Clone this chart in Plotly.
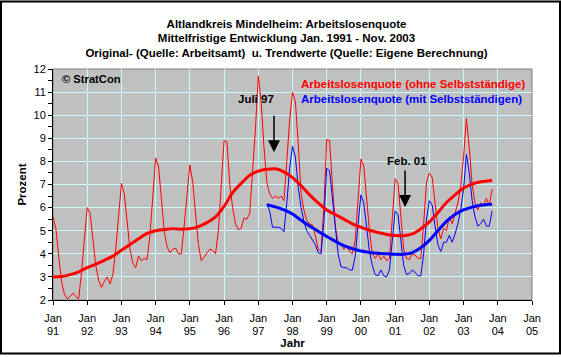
import plotly.graph_objects as go

# ---------------- data ----------------
# Red: Arbeitslosenquote (ohne Selbstständige), monthly Jan 1991 .. Nov 2003
red_1991 = [5.6, 5.1, 3.9, 2.8, 2.25, 2.05, 2.15, 2.3, 2.15, 2.05, 3.2, 4.8]
red_1992 = [6.0, 5.75, 4.5, 3.5, 2.85, 2.55, 2.8, 3.0, 2.7, 3.1, 4.2, 5.8]
red_1993 = [7.05, 6.6, 5.3, 4.2, 3.6, 3.4, 3.9, 3.7, 3.8, 3.75, 4.8, 6.7]
red_1994 = [8.15, 7.8, 6.4, 5.0, 4.3, 4.05, 4.2, 4.25, 4.0, 4.0, 5.2, 6.6]
red_1995 = [7.85, 7.1, 5.9, 4.4, 3.7, 3.85, 4.05, 4.2, 4.15, 4.0, 5.0, 7.0]
red_1996 = [8.9, 8.85, 7.0, 6.0, 5.3, 5.05, 5.1, 5.55, 5.5, 5.75, 7.4, 9.4]
red_1997 = [11.7, 10.6, 8.6, 7.1, 6.6, 6.4, 6.5, 6.4, 6.5, 6.3, 8.0, 9.8]
red_1998 = [11.0, 10.6, 8.8, 6.6, 5.9, 5.45, 5.3, 5.25, 4.8, 4.2, 4.1, 6.0]
red_1999 = [8.95, 8.9, 7.0, 5.2, 4.45, 4.45, 4.2, 4.35, 4.1, 4.0, 4.6, 6.5]
red_2000 = [8.1, 7.8, 6.4, 5.0, 4.0, 3.8, 4.0, 3.75, 3.9, 3.7, 3.8, 5.4]
red_2001 = [7.25, 7.05, 5.5, 4.2, 3.8, 3.75, 4.0, 3.95, 3.8, 3.8, 5.3, 7.1]
red_2002 = [7.5, 7.3, 6.2, 5.1, 4.65, 5.1, 5.0, 5.6, 5.3, 5.7, 6.2, 6.9]
red_2003 = [8.2, 9.85, 8.6, 7.0, 6.2, 5.9, 6.2, 6.1, 6.4, 6.1, 6.8]

# Blue: Arbeitslosenquote (mit Selbstständigen), monthly Apr 1997 .. Nov 2003
blue_1997 = [6.15, 5.85, 5.15, 5.15, 5.15, 5.1, 4.95, 6.2, 7.7]          # Apr..Dec
blue_1998 = [8.65, 8.2, 6.9, 6.0, 5.4, 5.0, 4.8, 4.6, 4.4, 4.05, 4.0, 5.4]
blue_1999 = [7.7, 7.6, 6.3, 5.0, 4.0, 3.45, 3.4, 3.4, 3.3, 3.3, 3.9, 5.3]
blue_2000 = [6.55, 6.2, 5.0, 4.1, 3.5, 3.1, 3.05, 3.3, 3.05, 3.0, 3.3, 4.6]
blue_2001 = [5.85, 5.7, 4.6, 3.5, 3.1, 3.15, 3.3, 3.2, 3.05, 3.05, 4.0, 5.5]
blue_2002 = [6.3, 6.1, 5.2, 4.4, 4.1, 4.5, 4.5, 4.8, 4.5, 4.85, 5.3, 5.9]
blue_2003 = [6.8, 8.3, 7.5, 6.3, 5.6, 5.2, 5.3, 5.5, 5.2, 5.2, 5.85]

# Trend values (month index since Jan 1991, value)
red_trend_month = [0, 3, 6, 9, 12, 15, 18, 21, 24, 27, 30, 33, 36, 39, 42, 45, 48, 51, 54, 57,
                   60, 63, 66, 69, 72, 75, 78, 81, 84, 87, 90, 93, 96, 99, 102, 105, 108, 111,
                   114, 117, 120, 123, 126, 129, 132, 135, 138, 141, 144, 147, 150, 153, 154]
red_trend_value = [3.0, 3.02, 3.1, 3.22, 3.4, 3.55, 3.72, 3.9, 4.15, 4.4, 4.65, 4.88, 5.0, 5.05,
                   5.08, 5.06, 5.08, 5.18, 5.35, 5.6, 6.05, 6.65, 7.05, 7.4, 7.58, 7.66, 7.68,
                   7.55, 7.3, 6.95, 6.55, 6.2, 5.9, 5.7, 5.5, 5.3, 5.15, 5.02, 4.92, 4.84, 4.79,
                   4.78, 4.86, 5.08, 5.38, 5.78, 6.22, 6.55, 6.85, 7.02, 7.12, 7.16, 7.17]
blue_trend_month = [75, 78, 81, 84, 87, 90, 93, 96, 99, 102, 105, 108, 111, 114, 117, 120, 123,
                    126, 129, 132, 135, 138, 141, 144, 147, 150, 153, 154]
blue_trend_value = [6.12, 6.03, 5.9, 5.72, 5.45, 5.2, 4.98, 4.75, 4.55, 4.35, 4.22, 4.12, 4.06,
                    4.02, 4.0, 3.98, 3.98, 4.05, 4.26, 4.58, 5.0, 5.4, 5.7, 5.9, 6.02, 6.1, 6.14, 6.15]

tick_years = list(range(1991, 2006))
tick_month_label = "Jan"
tick_year_labels = [f"{y % 100:02d}" for y in tick_years]

red_values = (red_1991 + red_1992 + red_1993 + red_1994 + red_1995 + red_1996 + red_1997 +
              red_1998 + red_1999 + red_2000 + red_2001 + red_2002 + red_2003)
blue_values = blue_1997 + blue_1998 + blue_1999 + blue_2000 + blue_2001 + blue_2002 + blue_2003
red_start, blue_start = 0, 75


def to_year(m):
    return 1991 + m / 12.0


red_x = [to_year(red_start + i) for i in range(len(red_values))]
blue_x = [to_year(blue_start + i) for i in range(len(blue_values))]

FONT = "Liberation Sans, Arial, sans-serif"
RED = "#FF0000"
BLUE = "#0000FF"
GRID = "#C4FCFC"

fig = go.Figure()
fig.add_trace(go.Scatter(x=red_x, y=red_values, mode="lines",
                         line=dict(color=RED, width=1), showlegend=False))
fig.add_trace(go.Scatter(x=blue_x, y=blue_values, mode="lines",
                         line=dict(color=BLUE, width=1), showlegend=False))
fig.add_trace(go.Scatter(x=[to_year(m) for m in red_trend_month], y=red_trend_value, mode="lines",
                         line=dict(color=RED, width=3, shape="spline"), showlegend=False))
fig.add_trace(go.Scatter(x=[to_year(m) for m in blue_trend_month], y=blue_trend_value, mode="lines",
                         line=dict(color=BLUE, width=3, shape="spline"), showlegend=False))
# helper trace so that the second (year label) axis is drawn
fig.add_trace(go.Scatter(x=[1991], y=[None], xaxis="x2", mode="lines", showlegend=False,
                         hoverinfo="skip"))

W, H = 561, 357
ML, MR, MT, MB = 53, 29, 69, 55
PW, PH = W - ML - MR, H - MT - MB

fig.update_layout(
    width=W, height=H,
    margin=dict(l=ML, r=MR, t=MT, b=MB, pad=0),
    paper_bgcolor="white",
    plot_bgcolor="#C0C0C0",
    font=dict(family=FONT, size=11, color="black"),
    title=dict(
        text=("<b>Altlandkreis Mindelheim: Arbeitslosenquote</b><br>"
              "<b>Mittelfristige Entwicklung Jan. 1991 - Nov. 2003</b><br>"
              "<b>Original- (Quelle: Arbeitsamt)  u. Trendwerte (Quelle: Eigene Berechnung)</b>"),
        x=286.5 / W, xanchor="center", xref="container",
        y=1 - 27.5 / H, yanchor="top", yref="container",
        font=dict(family=FONT, size=11.5, color="black"),
    ),
    xaxis=dict(
        range=[1991, 2005], tickmode="array", tickvals=tick_years,
        ticktext=[tick_month_label] * len(tick_years),
        ticks="outside", ticklen=4, tickcolor="black", tickwidth=1,
        showline=True, linecolor="black", linewidth=1,
        showgrid=True, gridcolor=GRID, gridwidth=1, zeroline=False,
        tickfont=dict(family=FONT, size=11), ticklabelstandoff=4,
    ),
    xaxis2=dict(
        range=[1991, 2005], overlaying="x", anchor="y", side="bottom",
        tickmode="array", tickvals=tick_years, ticktext=tick_year_labels,
        ticks="", showline=False, showgrid=False, zeroline=False,
        tickfont=dict(family=FONT, size=11), ticklabelstandoff=23,
        title=dict(text="<b>Jahr</b>", standoff=0, font=dict(family=FONT, size=11.5)),
    ),
    yaxis=dict(
        range=[2, 12], tickmode="linear", tick0=2, dtick=1,
        ticks="outside", ticklen=4, tickcolor="black",
        showline=True, linecolor="black", linewidth=1,
        showgrid=True, gridcolor=GRID, gridwidth=1, zeroline=False,
        minor=dict(dtick=0.5, ticks="outside", ticklen=4, tickcolor="black", showgrid=False),
        tickfont=dict(family=FONT, size=11),
        title=dict(text="<b>Prozent</b>", standoff=4, font=dict(family=FONT, size=11.5)),
    ),
)

# plot area frame and outer frame
fig.add_shape(type="rect", xref="paper", yref="paper", x0=0, x1=1, y0=0, y1=1,
              line=dict(color="#808080", width=1), layer="below")
fig.add_shape(type="rect", xref="paper", yref="paper",
              x0=-(ML - 1) / PW, x1=1 + (MR - 1) / PW, y0=-(MB - 1) / PH, y1=1 + (MT - 1) / PH,
              line=dict(color="black", width=2), layer="above")

ann_font = dict(family=FONT, size=11.5)
fig.add_annotation(text="<b>© StratCon</b>", xref="paper", yref="y", x=7 / PW, y=11.58,
                   xanchor="left", yanchor="middle", showarrow=False,
                   font=dict(family=FONT, size=11.2, color="black"))
fig.add_annotation(text="<b>Arbeitslosenquote (ohne Selbstständige)</b>", x=1998.19, y=11.37,
                   xanchor="left", yanchor="middle", showarrow=False, font=dict(ann_font, color=RED))
fig.add_annotation(text="<b>Arbeitslosenquote (mit Selbstständigen)</b>", x=1998.19, y=10.72,
                   xanchor="left", yanchor="middle", showarrow=False, font=dict(ann_font, color=BLUE))
fig.add_annotation(text="<b>Juli 97</b>", x=1996.92, y=10.68, xanchor="center", yanchor="middle",
                   showarrow=False, font=dict(ann_font, color="black"))
fig.add_annotation(text="", x=1997.46, y=8.4, ax=0, ay=-38, showarrow=True,
                   arrowhead=2, arrowsize=1.6, arrowwidth=1.5, arrowcolor="black")
fig.add_annotation(text="<b>Feb. 01</b>", x=2001.35, y=8.01, xanchor="center", yanchor="middle",
                   showarrow=False, font=dict(ann_font, color="black"))
fig.add_annotation(text="", x=2001.29, y=6.03, ax=0, ay=-38, showarrow=True,
                   arrowhead=2, arrowsize=1.6, arrowwidth=1.5, arrowcolor="black")

fig.write_html("out.html", config={"displayModeBar": False},
               post_script="document.body.style.margin='0';")
